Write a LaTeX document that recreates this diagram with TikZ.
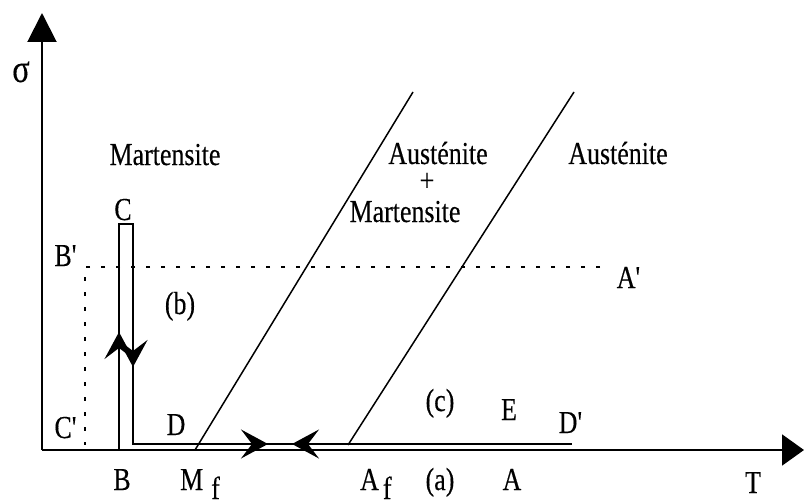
\documentclass[tikz,border=0pt]{standalone}
\usepackage{fontspec}
\setmainfont[FakeStretch=0.81,FakeBold=0.3]{Liberation Serif}
\usetikzlibrary{arrows.meta}
\begin{document}
\begin{tikzpicture}[x=1pt,y=-1pt,
  lbl/.style={inner sep=0pt, anchor=base, font=\fontsize{32}{36}\selectfont},
  axisline/.style={line width=2pt},
  thinline/.style={line width=1.5pt},
  dotline/.style={line width=1.5pt, dash pattern=on 4pt off 11pt},
  midarrow/.style={line width=1.5pt, -{Stealth[length=27pt,width=29pt,inset=11pt]}},
]
\useasboundingbox (0,0) rectangle (804,503);
% axes
\coordinate (O) at (42,450);
\coordinate (Ytop) at (42,13);
\coordinate (Xend) at (804,450);
\draw[axisline, -{Triangle[length=29pt,width=29pt]}] (O) -- (Ytop);
\draw[axisline, -{Triangle[length=22pt,width=31pt]}] (O) -- (Xend);
% dotted lines
\coordinate (Bp) at (85,267);
\coordinate (Ap) at (600,267);
\coordinate (Cp) at (85,445);
\draw[dotline] (Ap) -- (Bp) -- (Cp);
% transformation lines
\coordinate (Mf) at (195,450);
\coordinate (Mtop) at (413,92);
\coordinate (Af) at (348,445);
\coordinate (Atop) at (574,92);
\draw[thinline] (Mf) -- (Mtop);
\draw[thinline] (Af) -- (Atop);
% loading path
\coordinate (pB) at (119,450);
\coordinate (pC1) at (119,224);
\coordinate (pC2) at (133,224);
\coordinate (pD) at (133,444);
\coordinate (pDp) at (572,444);
\draw[thinline] (pB) -- (pC1) -- (pC2) -- (pD) -- (pDp);
% arrows on path
\coordinate (u0) at (119,362);
\coordinate (u1) at (119,332);
\coordinate (d0) at (133,338);
\coordinate (d1) at (133,367);
\coordinate (r0) at (238,444);
\coordinate (r1) at (268,444);
\coordinate (l0) at (322,444);
\coordinate (l1) at (292,444);
\draw[midarrow] (u0) -- (u1);
\draw[midarrow] (d0) -- (d1);
\draw[midarrow] (r0) -- (r1);
\draw[midarrow] (l0) -- (l1);
% labels
\node[lbl, font=\fontsize{40}{44}\selectfont] (sigma) at (21,82) {σ};
\node[lbl] (mart) at (165,165) {Martensite};
\node[lbl] (aus1) at (438,164) {Austénite};
\node[lbl] (plus) at (427,191) {+};
\node[lbl] (mart2) at (405,222) {Martensite};
\node[lbl] (aus2) at (618,164) {Austénite};
\node[lbl] (C) at (123,220) {C};
\node[lbl] (Bprime) at (66,266) {B\textquotesingle};
\node[lbl] (Aprime) at (629,288) {A\textquotesingle};
\node[lbl] (b) at (180,314) {(b)};
\node[lbl] (Cprime) at (66,438) {C\textquotesingle};
\node[lbl] (D) at (176,435) {D};
\node[lbl] (c) at (440,411) {(c)};
\node[lbl] (E) at (509,420) {E};
\node[lbl] (Dprime) at (571,433) {D\textquotesingle};
\node[lbl] (B) at (122,490) {B};
\node[lbl, anchor=base west] (Mflbl) at (180,490) {M\hspace{8pt}\raisebox{-9pt}{f}};
\node[lbl, anchor=base west] (Aflbl) at (360,490) {A\hspace{4pt}\raisebox{-9pt}{f}};
\node[lbl] (a) at (440,490) {(a)};
\node[lbl] (A) at (512,490) {A};
\node[lbl] (T) at (753,493) {T};
\end{tikzpicture}
\end{document}
